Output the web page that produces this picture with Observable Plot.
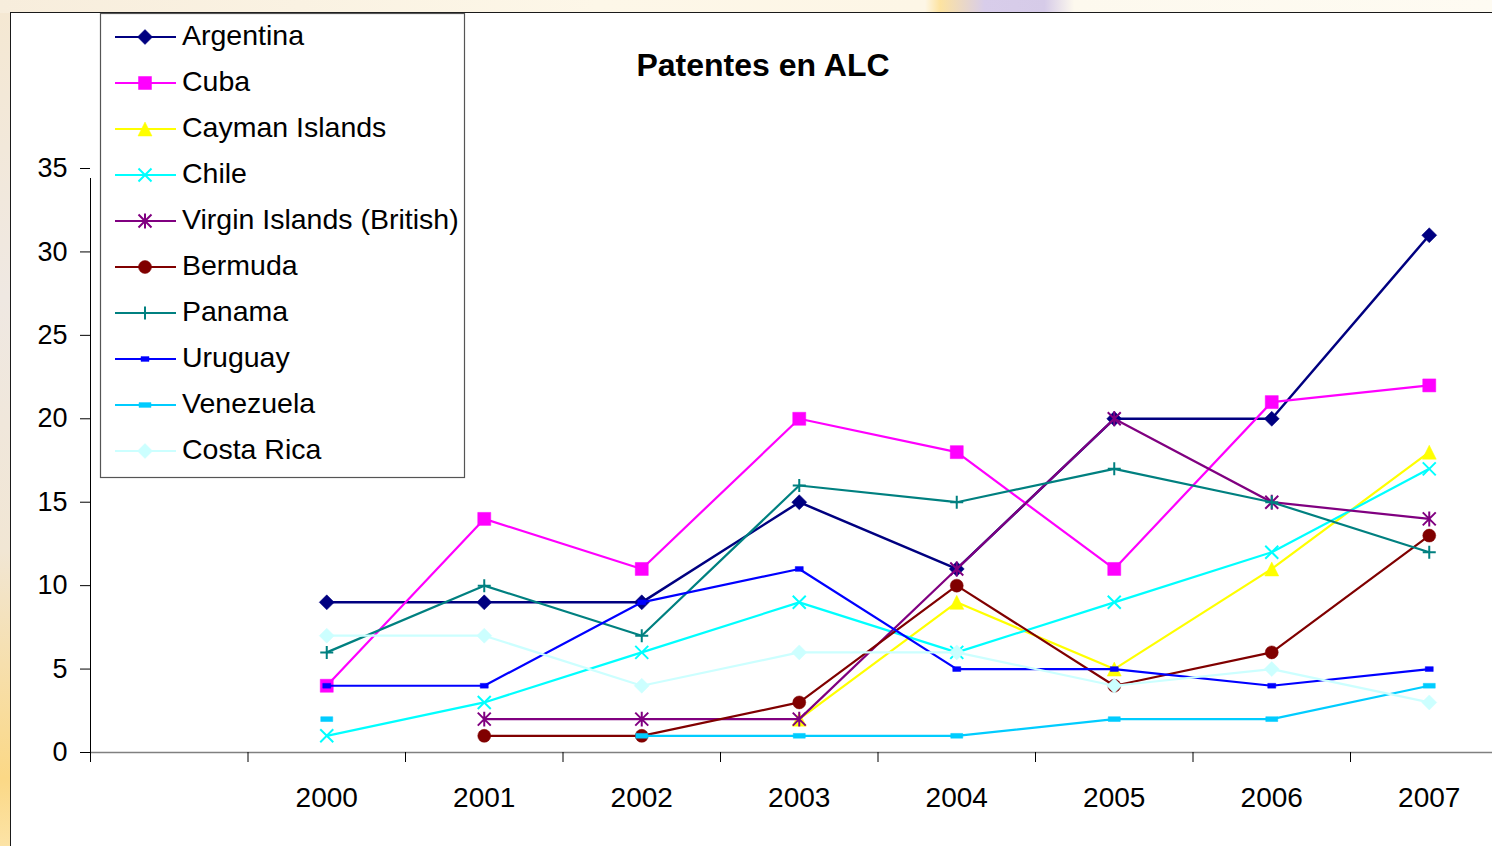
<!DOCTYPE html>
<html>
<head>
<meta charset="utf-8">
<script src="https://cdn.jsdelivr.net/npm/d3@7"></script>
<script src="https://cdn.jsdelivr.net/npm/@observablehq/plot@0.6"></script>
<style>
  html, body { margin: 0; padding: 0; width: 1492px; height: 846px; overflow: hidden; }
  body {
    background: linear-gradient(to bottom, #f5e8d2 0%, #efe8e2 35%, #f1e6d4 65%, #fbd886 92%, #fce3a6 100%);
    font-family: "Liberation Sans", Arial, sans-serif;
  }
  #topstrip {
    position: absolute; left: 0; top: 0; width: 1492px; height: 13px;
    background: linear-gradient(to right, #f7eddc 0%, #fdf7e8 40%, #fdf6e6 62%, #fde3a0 63%, #d8cdea 66%, #d6cbe8 70%, #fdf9ee 72%, #fefbf2 100%);
  }
  #chartbg {
    position: absolute; left: 10px; top: 12px; right: 0; bottom: 0;
    background: #ffffff; border-left: 1.5px solid #1a1a1a; border-top: 1.5px solid #1a1a1a;
  }
  #plot { position: absolute; left: 0; top: 0; }
  #overlay { position: absolute; left: 0; top: 0; }
</style>
</head>
<body>
<div id="topstrip"></div>
<div id="chartbg"></div>
<div id="plot"></div>
<svg id="overlay" width="1492" height="846"></svg>
<script>
// ---- data ----
const years = ["2000", "2001", "2002", "2003", "2004", "2005", "2006", "2007"];
const seriesNames = ["Argentina", "Cuba", "Cayman Islands", "Chile", "Virgin Islands (British)", "Bermuda", "Panama", "Uruguay", "Venezuela", "Costa Rica"];
const argentina = [9, 9, 9, 15, 11, 20, 20, 31];
const cuba = [4, 14, 11, 20, 18, 11, 21, 22];
const cayman = [null, null, null, 2, 9, 5, 11, 18];
const chile = [1, 3, 6, 9, 6, 9, 12, 17];
const virgin = [null, 2, 2, 2, 11, 20, 15, 14];
const bermuda = [null, 1, 1, 3, 10, 4, 6, 13];
const panama = [6, 10, 7, 16, 15, 17, 15, 12];
const uruguay = [4, 4, 9, 11, 5, 5, 4, 5];
const venezuela = [2, null, 1, 1, 1, 2, 2, 4];
const costaRica = [7, 7, 4, 6, 6, 4, 5, 3];
const seriesValues = [argentina, cuba, cayman, chile, virgin, bermuda, panama, uruguay, venezuela, costaRica];
const colors = ["#000080", "#FF00FF", "#FFFF00", "#00FFFF", "#800080", "#800000", "#008080", "#0000FF", "#00CCFF", "#CCFFFF"];
const markerKinds = ["diamond", "square", "triangle", "x", "star", "circle", "plus", "dashS", "dashL", "diamond"];
const yTicks = [0, 5, 10, 15, 20, 25, 30, 35];
const titleText = "Patentes en ALC";

// ---- symbols (Excel-like markers) ----
function sym(fn) { return { draw(ctx, size) { fn(ctx, Math.sqrt(size / Math.PI)); } }; }
const symbols = {
  diamond: sym((c, r) => { c.moveTo(0, -r); c.lineTo(r, 0); c.lineTo(0, r); c.lineTo(-r, 0); c.closePath(); }),
  square: sym((c, r) => { c.rect(-r, -r, 2 * r, 2 * r); }),
  triangle: sym((c, r) => { c.moveTo(0, -r); c.lineTo(r, r); c.lineTo(-r, r); c.closePath(); }),
  x: sym((c, r) => { c.moveTo(-r, -r); c.lineTo(r, r); c.moveTo(r, -r); c.lineTo(-r, r); }),
  star: sym((c, r) => { c.moveTo(-r, -r); c.lineTo(r, r); c.moveTo(r, -r); c.lineTo(-r, r); c.moveTo(0, -r * 1.15); c.lineTo(0, r * 1.15); }),
  circle: sym((c, r) => { c.moveTo(r, 0); c.arc(0, 0, r, 0, 2 * Math.PI); c.closePath(); }),
  plus: sym((c, r) => { c.moveTo(-r, 0); c.lineTo(r, 0); c.moveTo(0, -r); c.lineTo(0, r); }),
  dashS: sym((c, r) => { c.rect(-r, -r * 0.6, 2 * r, 1.2 * r); }),
  dashL: sym((c, r) => { c.rect(-r, -r * 0.4, 2 * r, 0.8 * r); })
};
const markerStyle = {
  diamond: { r: 7.5, filled: true },
  square: { r: 6.5, filled: true },
  triangle: { r: 7, filled: true },
  x: { r: 6.5, filled: false },
  star: { r: 6.5, filled: false },
  circle: { r: 6.5, filled: true },
  plus: { r: 6.5, filled: false },
  dashS: { r: 4, filled: true },
  dashL: { r: 6, filled: true }
};

// ---- long table: category index 0 is an empty slot, years start at index 1 ----
const rows = [];
seriesNames.forEach((name, s) => {
  years.forEach((yr, i) => {
    rows.push({ series: name, s, xi: i + 1.5, year: yr, value: seriesValues[s][i] });
  });
});

const marks = [];
// axis lines
marks.push(Plot.ruleY([0], { x1: 0, x2: 9, stroke: "#808080", strokeWidth: 1.5 }));
marks.push(Plot.ruleX([0], { y1: 0, y2: 35, stroke: "#000", strokeWidth: 1, insetBottom: -10 }));
// y axis
marks.push(Plot.axisY({ ticks: yTicks, tickSize: 10, tickPadding: 13, fontSize: 27, label: null, anchor: "left", tickFormat: d => String(d) }));
// x axis boundary ticks
marks.push(Plot.axisX({ ticks: d3.range(0, years.length + 2), tickSize: 10, tickFormat: () => "", label: null, anchor: "bottom" }));
// x axis labels at category centers
marks.push(Plot.axisX({ ticks: years.map((_, i) => i + 1.5), tickSize: 0, tickPadding: 35, fontSize: 28, label: null, anchor: "bottom", tickFormat: d => years[Math.round(d - 1.5)] }));

// lines + markers, series by series
seriesNames.forEach((name, s) => {
  const data = rows.filter(d => d.s === s);
  const kind = markerKinds[s];
  const ms = markerStyle[kind];
  marks.push(Plot.line(data, { x: "xi", y: "value", stroke: colors[s], strokeWidth: s === 0 ? 2.5 : 2.2 }));
  marks.push(Plot.dot(data.filter(d => d.value != null), {
    x: "xi", y: "value", r: ms.r, symbol: symbols[kind],
    fill: ms.filled ? colors[s] : "none",
    stroke: colors[s], strokeWidth: ms.filled ? 0.5 : 2
  }));
});

const chart = Plot.plot({
  width: 1492,
  height: 846,
  marginLeft: 90,
  marginRight: 0,
  marginTop: 168,
  marginBottom: 94,
  x: { type: "linear", domain: [0, 9], range: [90, 1507.5] },
  y: { type: "linear", domain: [0, 35], range: [752, 168] },
  style: { fontFamily: "'Liberation Sans', Arial, sans-serif", color: "#000", background: "transparent", overflow: "visible" },
  marks
});
document.getElementById("plot").appendChild(chart);

// ---- title and legend overlay ----
const ov = d3.select("#overlay");
ov.append("text")
  .attr("x", 763).attr("y", 76)
  .attr("text-anchor", "middle")
  .attr("font-family", "'Liberation Sans', Arial, sans-serif")
  .attr("font-weight", "bold").attr("font-size", 32)
  .text(titleText);

const lg = ov.append("g");
lg.append("rect").attr("x", 100.5).attr("y", 13.5).attr("width", 364).attr("height", 464)
  .attr("fill", "#fff").attr("stroke", "#555").attr("stroke-width", 1.2);
seriesNames.forEach((name, s) => {
  const cy = 37 + 46 * s;
  const kind = markerKinds[s];
  const ms = markerStyle[kind];
  const g = lg.append("g");
  g.append("line").attr("x1", 115).attr("x2", 176).attr("y1", cy).attr("y2", cy)
    .attr("stroke", colors[s]).attr("stroke-width", 2.2);
  g.append("path")
    .attr("transform", `translate(145,${cy})`)
    .attr("d", d3.symbol(symbols[kind], ms.r * ms.r * Math.PI)())
    .attr("fill", ms.filled ? colors[s] : "none")
    .attr("stroke", colors[s]).attr("stroke-width", ms.filled ? 0.5 : 2);
  g.append("text").attr("x", 182).attr("y", cy + 8)
    .attr("font-family", "'Liberation Sans', Arial, sans-serif")
    .attr("font-size", 28.5).attr("fill", "#000")
    .text(name);
});
</script>
</body>
</html>
